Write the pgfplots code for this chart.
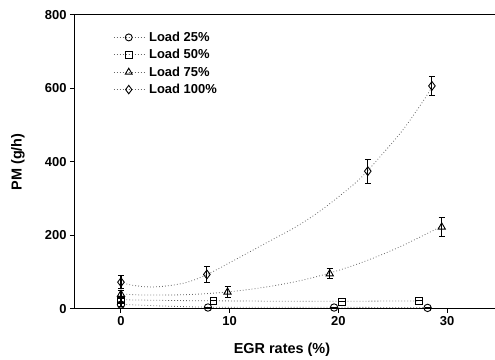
\documentclass[border=0pt]{standalone}
\usepackage{fontspec}
\setmainfont{Liberation Sans}
\usepackage{pgfplots}
\pgfplotsset{compat=1.18}
\begin{document}
\begin{tikzpicture}
\pgfplotsset{
  fitline/.style={gray!80!black, dash pattern=on 0.8pt off 2.2pt, line width=0.8pt, smooth, forget plot},
  pts/.style={only marks, black, mark options={solid, black, fill=white, line width=0.9pt}, mark size=3.7bp, forget plot,
    error bars/y dir=both, error bars/y explicit,
    error bars/error bar style={line width=1.1pt, black},
    error bars/error mark options={rotate=90, mark size=3bp, line width=1.1pt, black}},
  legimg/.style={gray!80!black, dash pattern=on 0.8pt off 2.2pt, line width=0.8pt,
    mark options={solid, black, fill=white, line width=0.9pt}, mark size=3.5bp,
    legend image code/.code={\draw[mark repeat=2,mark phase=2,##1] plot coordinates {(0bp,0bp) (15bp,0bp) (30bp,0bp)};}},
}
\begin{axis}[
  width=421bp, height=294bp, scale only axis,
  xmin=-4.32, xmax=34.4, ymin=0, ymax=800,
  xtick={0,10,20,30}, ytick={0,200,400,600,800},
  tick align=outside, major tick length=4bp, tick pos=left,
  axis line style={line width=1pt}, major tick style={line width=1pt, black},
  /pgf/number format/assume math mode=true,
  tick label style={font=\fontsize{13}{15}\selectfont\bfseries},
  label style={font=\fontsize{14.5}{16}\selectfont\bfseries},
  xlabel={EGR rates (\%)}, ylabel={PM (g/h)},
  xlabel style={at={(axis description cs:0.494,-0.139)}, anchor=center},
  ylabel style={at={(axis description cs:-0.133,0.5)}, anchor=center},
  clip=false,
  legend style={at={(axis description cs:0.093,0.948)}, anchor=north west, draw=none, fill=none,
    font=\fontsize{13}{15}\selectfont\bfseries, row sep=3.5bp, inner sep=0pt,
    nodes={inner xsep=5bp, inner ysep=1.5bp}},
  legend cell align=left,
]
% fitted curves
\addplot[fitline] coordinates {(0.5,12) (4,8) (8,5) (14,4.5) (20,4.5) (28,4)};
\addplot[fitline] coordinates {(0.5,25) (5,23) (10,22) (15,21) (20,21) (27.4,22)};
\addplot[fitline] coordinates {(0.5,40) (2,38) (4,38) (6,39) (8,42) (10,47) (12,54) (14,63) (16,74) (18,88) (20,105) (22,125) (24,148) (26,174) (28,203) (29.5,225)};
\addplot[fitline] coordinates {(0.5,68) (1,65) (2,61) (3,60) (4,62) (5,66) (6,72) (7,82) (8,95) (9,110) (10,126) (12,158) (14,190) (16,222) (18,260) (20,305) (22,355) (24,420) (26,490) (28,575) (28.6,605)};
% data points
\addplot[pts, mark=o] table[x=x, y=y, y error=e] {
x y e
0 12 6
8 4 0
19.6 4 0
28.2 3 0
};
\addplot[pts, mark=square, mark size=3.4bp] table[x=x, y=y, y error=e] {
x y e
0 25 8
8.5 22 0
20.3 20 0
27.4 22 0
};
\addplot[pts, mark=triangle, mark size=4.2bp] table[x=x, y=y, y error=e] {
x y e
0 40 10
9.8 46 15
19.2 96 13
29.5 223 25
};
\addplot[pts, mark=diamond, mark size=4.4bp] table[x=x, y=y, y error=e] {
x y e
0 73 17
7.9 94 22
22.7 375 33
28.6 607 25
};
\addlegendimage{legimg, mark=o}
\addlegendentry{Load 25\%}
\addlegendimage{legimg, mark=square, mark size=3.2bp}
\addlegendentry{Load 50\%}
\addlegendimage{legimg, mark=triangle, mark size=4bp}
\addlegendentry{Load 75\%}
\addlegendimage{legimg, mark=diamond, mark size=4.2bp}
\addlegendentry{Load 100\%}
\end{axis}
\pgfresetboundingbox
\path (current axis.south west) +(-74bp,-51bp) (current axis.north east) +(0bp,15bp);
\end{tikzpicture}
\end{document}
